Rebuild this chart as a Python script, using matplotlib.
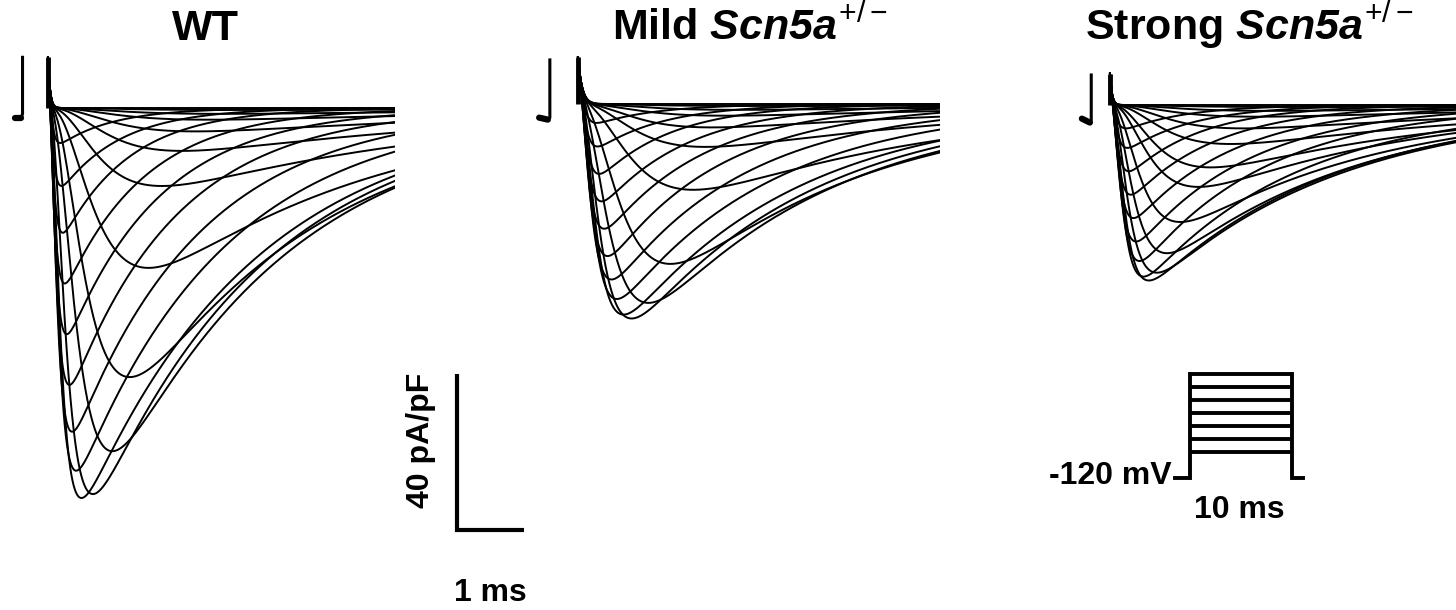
import numpy as np
import matplotlib.pyplot as plt

W, H = 1456, 610
PX_PER_MS = 67.0     # 1 ms scale bar
PX_PER_PAPF = 3.9    # 40 pA/pF scale bar = 156 px

# ---------------------------------------------------------------------------
# Values, one entry per sweep
# peak current (pA/pF), time to peak (ms), inactivation time constant (ms)
# ---------------------------------------------------------------------------
WT_PEAK = [0.0, 0.5, 1.5, 3, 6, 11, 20, 41, 69, 88, 99, 100, 93, 83, 71, 58, 45, 32, 20, 9]
WT_TPEAK = [1.0, 2.8, 2.6, 2.4, 2.2, 2.0, 1.7, 1.5, 1.22, 0.96, 0.67, 0.5, 0.42, 0.36, 0.32, 0.28, 0.25, 0.22, 0.2, 0.18]
WT_TAU_H = [1.0, 6.0, 6.0, 5.5, 5.0, 4.6, 4.2, 3.4, 2.9, 2.7, 2.6, 2.6, 2.2, 1.9, 1.6, 1.4, 1.2, 1.0, 0.9, 0.8]

MILD_PEAK = [0.0, 0.5, 1.5, 3, 6, 11, 22, 41, 51, 55, 54, 50, 45, 39, 32, 25, 18, 11, 5]
MILD_TPEAK = [1.0, 2.6, 2.4, 2.2, 2.0, 1.9, 1.72, 1.38, 1.05, 0.8, 0.68, 0.58, 0.5, 0.44, 0.39, 0.35, 0.31, 0.28, 0.25]
MILD_TAU_H = [1.0, 6.0, 5.5, 5.0, 4.5, 4.0, 3.6, 3.0, 2.8, 2.7, 2.6, 2.3, 2.0, 1.7, 1.5, 1.3, 1.1, 1.0, 0.9]

STRONG_PEAK = [0.0, 0.5, 1.5, 3, 6, 10, 16, 21, 30, 38, 43, 45, 44, 40, 35, 29, 23, 17, 11, 6]
STRONG_TPEAK = [1.0, 2.6, 2.4, 2.2, 2.0, 1.8, 1.5, 1.32, 1.05, 0.85, 0.7, 0.58, 0.5, 0.44, 0.39, 0.35, 0.31, 0.28, 0.26, 0.24]
STRONG_TAU_H = [1.0, 6.0, 5.5, 5.0, 4.5, 4.0, 3.5, 3.2, 3.0, 2.9, 2.85, 2.8, 2.3, 1.9, 1.7, 1.5, 1.3, 1.1, 1.0, 0.9]

# capacitive transient at the start of the step (pA/pF, ms)
CAP_AMP = {"WT": 13.0, "Mild": 12.0, "Strong": 8.0}
CAP_TAU = {"WT": 0.03, "Mild": 0.06, "Strong": 0.03}

# end of the preceding sweep, drawn as a small hook left of each panel (ms, pA/pF)
HOOK_T = {"WT": [-0.38, -0.38, -0.40, -0.50], "Mild": [-0.42, -0.42, -0.45, -0.58],
          "Strong": [-0.28, -0.28, -0.30, -0.42]}
HOOK_I = {"WT": [13.0, -1.5, -2.5, -2.5], "Mild": [11.3, -3.5, -4.0, -3.5],
          "Strong": [7.7, -4.0, -4.5, -3.5]}

# voltage protocol
HOLD_MV = -120
STEP_MV = [-80, -60, -40, -20, 0, 20, 40]
STEP_MS = 10

TITLES = ["WT", r"Mild $Scn5a^{\mathsf{+/-}}$", r"Strong $Scn5a^{\mathsf{+/-}}$"]

plt.rcParams["font.family"] = ["Liberation Sans", "DejaVu Sans"]
plt.rcParams["mathtext.fontset"] = "custom"
plt.rcParams["mathtext.it"] = "Liberation Sans:italic:bold"
plt.rcParams["mathtext.rm"] = "Liberation Sans:italic:bold"
plt.rcParams["mathtext.sf"] = "Liberation Sans"
plt.rcParams["mathtext.bf"] = "Liberation Sans:bold"

TITLE_SIZE = 31
LABEL_SIZE = 23


def px_axes(fig, left, top, right, bottom, x0, y0, sx, sy):
    """Axes placed in pixel box; data (0, 0) sits at pixel (x0, y0), sx/sy px per unit."""
    ax = fig.add_axes([left / W, 1 - bottom / H, (right - left) / W, (bottom - top) / H])
    ax.set_xlim((left - x0) / sx, (right - x0) / sx)
    ax.set_ylim((y0 - bottom) / sy, (y0 - top) / sy)
    ax.axis("off")
    return ax


def sodium_trace(t, peak, tpeak, tau_h):
    """m^3 h shaped inward current, scaled so its minimum is -peak at tpeak."""
    tm_grid = np.linspace(0.005, 3.0, 4000)
    r = tm_grid / tau_h
    tp_grid = tm_grid * np.log((3 + r) / r)
    tau_m = np.interp(tpeak, tp_grid, tm_grid)
    shape = (1 - np.exp(-t / tau_m)) ** 3 * np.exp(-t / tau_h)
    ref = (1 - np.exp(-tpeak / tau_m)) ** 3 * np.exp(-tpeak / tau_h)
    return -peak * shape / ref


def draw_panel(fig, key, t0_px, base_px, right_px, peaks, tpeaks, taus):
    ax = px_axes(fig, t0_px - 45, 40, right_px, 560, t0_px, base_px, PX_PER_MS, PX_PER_PAPF)
    t = np.linspace(0, (right_px - t0_px) / PX_PER_MS, 1500)
    cap = CAP_AMP[key] * np.exp(-t / CAP_TAU[key])
    for pk, tp, th in zip(peaks, tpeaks, taus):
        ax.plot(t, sodium_trace(t, pk, tp, th) + cap, color="black", lw=1.4,
                solid_joinstyle="round")
    ax.plot([0, 0], [0, CAP_AMP[key]], color="black", lw=3.5, solid_capstyle="butt")
    ax.plot(HOOK_T[key], HOOK_I[key], color="black", lw=2.2, solid_joinstyle="round")
    ax.plot(HOOK_T[key][2:], HOOK_I[key][2:], color="black", lw=4.5, solid_capstyle="round")
    return ax


fig = plt.figure(figsize=(W / 100, H / 100), dpi=100)

draw_panel(fig, "WT", 48, 108, 395, WT_PEAK, WT_TPEAK, WT_TAU_H)
draw_panel(fig, "Mild", 578, 104, 940, MILD_PEAK, MILD_TPEAK, MILD_TAU_H)
draw_panel(fig, "Strong", 1110, 105, 1456, STRONG_PEAK, STRONG_TPEAK, STRONG_TAU_H)

# titles
fig.text(205 / W, 1 - 40 / H, TITLES[0], ha="center", va="baseline",
         fontsize=TITLE_SIZE, fontweight="bold")
fig.text(612 / W, 1 - 40 / H, TITLES[1], ha="left", va="baseline",
         fontsize=TITLE_SIZE, fontweight="bold")
fig.text(1085 / W, 1 - 40 / H, TITLES[2], ha="left", va="baseline",
         fontsize=TITLE_SIZE, fontweight="bold")

# scale bars: 40 pA/pF and 1 ms
sb = px_axes(fig, 380, 350, 560, 610, 457, 530, PX_PER_MS, PX_PER_PAPF)
sb.plot([0, 0, 1], [40, 0, 0], color="black", lw=3, solid_joinstyle="miter",
        solid_capstyle="butt")
fig.text(421 / W, 1 - 440 / H, "40 pA/pF", rotation=90, ha="center", va="center",
         fontsize=LABEL_SIZE, fontweight="bold")
fig.text(490 / W, 1 - 593 / H, "1 ms", ha="center", va="center",
         fontsize=LABEL_SIZE, fontweight="bold")

# voltage protocol
vp = px_axes(fig, 1170, 360, 1310, 490, 1190, 478 + HOLD_MV * 0.65, 10.2, 0.65)
pre = -1.5
for v in STEP_MV:
    vp.plot([0, STEP_MS], [v, v], color="black", lw=2.8, solid_capstyle="butt")
vp.plot([pre, 0, 0], [HOLD_MV, HOLD_MV, max(STEP_MV)], color="black", lw=2.8,
        solid_joinstyle="miter", solid_capstyle="projecting")
vp.plot([STEP_MS, STEP_MS, STEP_MS + 1.1], [max(STEP_MV), HOLD_MV, HOLD_MV], color="black",
        lw=2.8, solid_joinstyle="miter", solid_capstyle="projecting")
fig.text(1172 / W, 1 - 476 / H, "-120 mV", ha="right", va="center",
         fontsize=LABEL_SIZE, fontweight="bold")
fig.text(1239 / W, 1 - 510 / H, "10 ms", ha="center", va="center",
         fontsize=LABEL_SIZE, fontweight="bold")

fig.savefig("out.png", dpi=100, facecolor="white")
